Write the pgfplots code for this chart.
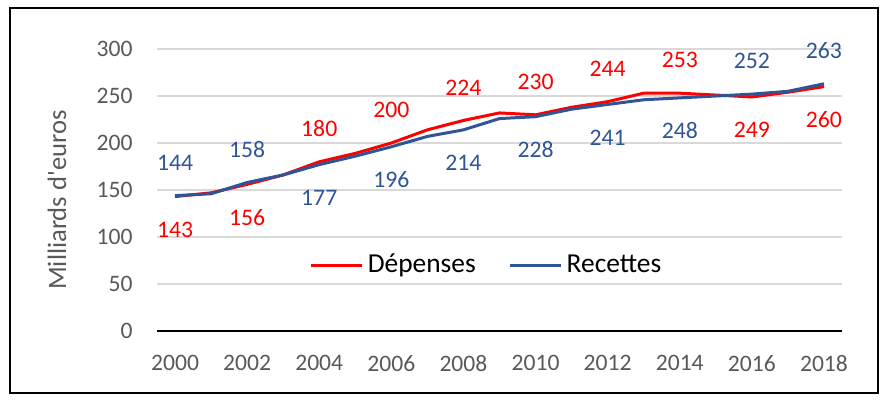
\documentclass[border=0pt]{standalone}
\usepackage{fontspec}
\setmainfont{Carlito}
\usepackage{pgfplots}
\usepackage{pgfplotstable}
\pgfplotsset{compat=1.18}
\definecolor{dred}{HTML}{FF0000}
\definecolor{dblue}{HTML}{2F5597}
\definecolor{tgray}{HTML}{595959}
\definecolor{ggray}{HTML}{D9D9D9}

\pgfplotstableread{
year dep rec
2000 143 144
2001 147 146
2002 156 158
2003 166 166
2004 180 177
2005 189 186
2006 200 196
2007 214 207
2008 224 214
2009 232 226
2010 230 228
2011 238 236
2012 244 241
2013 253 246
2014 253 248
2015 251 250
2016 249 252
2017 254 255
2018 260 263
}\series

\pgfplotstableread{
year dep rec doff roff
2000 143 144 -16.5 16.5
2002 156 158 -16.5 16.5
2004 180 177 16.5 -16.5
2006 200 196 16.5 -16.5
2008 224 214 16.5 -16.5
2010 230 228 16.5 -16.5
2012 244 241 16.5 -16.5
2014 253 248 16.5 -16.5
2016 249 252 -16.5 16.5
2018 260 263 -16.5 16.5
}\labels

\begin{document}
\begin{tikzpicture}
\useasboundingbox (0,0) rectangle (444pt,201.5pt);
\draw[line width=1.2pt] (5pt,5pt) rectangle (439pt,197.5pt);
\begin{axis}[
  at={(78.5pt,36pt)}, anchor=south west,
  scale only axis, width=342.5pt, height=141pt,
  xmin=1999.5, xmax=2018.5, ymin=0, ymax=300,
  xtick={2000,2002,...,2018}, ytick={0,50,...,300},
  axis x line*=bottom, axis y line*=left,
  y axis line style={draw=none},
  x axis line style={line width=1.3pt, black},
  major tick length=0pt,
  ymajorgrids, grid style={ggray, line width=0.8pt},
  /pgf/number format/assume math mode=true,
  /pgf/number format/1000 sep={},
  tick label style={font=\fontsize{11.8}{14}\selectfont, text=tgray},
  xticklabel style={inner sep=0pt, anchor=north, yshift=-12pt},
  yticklabel style={inner sep=0pt, anchor=east, xshift=-12pt},
  every axis y label/.style={at={(axis description cs:0,0.4645)}, xshift=-50pt, rotate=90, anchor=center},
  ylabel={Milliards d\textquotesingle euros},
  ylabel style={font=\fontsize{13.3}{16}\selectfont, text=tgray},
  legend columns=2,
  legend style={at={(rel axis cs:0.4825,0.234)}, anchor=center, draw=none, fill=none,
    font=\fontsize{13.7}{16}\selectfont,
    /tikz/every even column/.append style={column sep=14.5pt}},
  legend image code/.code={\draw[#1] (0pt,0pt) -- (25.5pt,0pt);},
  clip=false,
]
\addplot[dred, line width=1.5pt, line join=round, mark=none] table[x=year,y=dep]{\series};
\addlegendentry{Dépenses}
\addplot[dblue, line width=1.5pt, line join=round, mark=none] table[x=year,y=rec]{\series};
\addlegendentry{Recettes}

\addplot[draw=none, mark=none, forget plot,
  visualization depends on={\thisrow{doff}\as\myoff},
  nodes near coords, point meta=y,
  nodes near coords style={anchor=center, yshift=\myoff pt, text=dred, font=\fontsize{11.85}{14}\selectfont}]
  table[x=year,y=dep]{\labels};
\addplot[draw=none, mark=none, forget plot,
  visualization depends on={\thisrow{roff}\as\myoff},
  nodes near coords, point meta=y,
  nodes near coords style={anchor=center, yshift=\myoff pt, text=dblue, font=\fontsize{11.85}{14}\selectfont}]
  table[x=year,y=rec]{\labels};
\end{axis}
\end{tikzpicture}
\end{document}
